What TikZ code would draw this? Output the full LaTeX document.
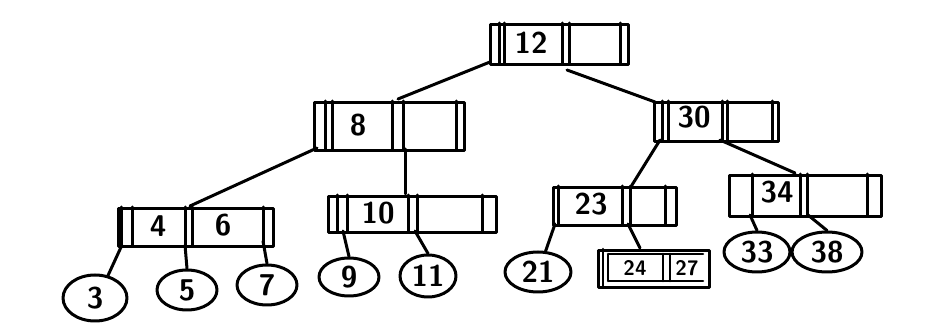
\documentclass[tikz,border=0pt]{standalone}
\usetikzlibrary{shapes.geometric}
\newcommand\numfont{\sffamily\bfseries\fontsize{30}{30}\selectfont}
\newcommand\smallnumfont{\sffamily\bfseries\fontsize{21}{21}\selectfont}
\begin{document}
\begin{tikzpicture}[x=1pt,y=-1pt,line cap=round,line join=round,
  box/.style={draw,rectangle,anchor=north west,inner sep=0pt,line width=3.4pt},
  bar/.style={line width=3pt},
  key/.style={font=\numfont,inner sep=0pt},
  skey/.style={font=\smallnumfont,inner sep=0pt},
  leaf/.style={draw,ellipse,inner sep=0pt,line width=3pt,font=\numfont},
  link/.style={line width=3pt}]
\path[use as bounding box,fill=white] (0,0) rectangle (945,336);

% root 12
\begin{scope}[shift={(489,23)}]
  \node[box,minimum width=138pt,minimum height=40pt] (n12) at (0,0) {};
  \draw[bar] (10,0)--(10,40) (15,0)--(15,40) (73,0)--(73,40) (80,0)--(80,40) (131,0)--(131,40);
  \node[key] (k12) at (42,20) {12};
  \coordinate (n12a) at (1,39);
  \coordinate (n12b) at (78,47);
\end{scope}

% node 8
\begin{scope}[shift={(313,101)}]
  \node[box,minimum width=150pt,minimum height=48pt] (n8) at (0,0) {};
  \draw[bar] (12,0)--(12,48) (19,0)--(19,48) (79,0)--(79,48) (90,0)--(90,48) (143,0)--(143,48);
  \node[key] (k8) at (45,24) {8};
  \coordinate (n8t) at (85,-2);
  \coordinate (n8a) at (4,47);
  \coordinate (n8b) at (92,48);
\end{scope}

% node 30
\begin{scope}[shift={(653,101)}]
  \node[box,minimum width=124pt,minimum height=39pt] (n30) at (0,0) {};
  \draw[bar] (9,0)--(9,39) (15,0)--(15,39) (69,0)--(69,39) (74,0)--(74,39) (119,0)--(119,39);
  \node[key] (k30) at (41,16) {30};
  \coordinate (n30t) at (2,1);
  \coordinate (n30a) at (7,39);
  \coordinate (n30b) at (67,39);
\end{scope}

% node 4 6
\begin{scope}[shift={(117,207)}]
  \node[box,minimum width=155pt,minimum height=38pt] (n46) at (0,0) {};
  \draw[bar] (4,0)--(4,38) (15,0)--(15,38) (68,0)--(68,38) (75,0)--(75,38) (146,0)--(146,38);
  \node[key] (k4) at (41,19) {4};
  \node[key] (k6) at (106,18) {6};
  \coordinate (n46t) at (73,-1);
  \coordinate (n46a) at (5,38);
  \coordinate (n46b) at (68,38);
  \coordinate (n46c) at (146,34);
\end{scope}

% node 10
\begin{scope}[shift={(327,195)}]
  \node[box,minimum width=168pt,minimum height=36pt] (n10) at (0,0) {};
  \draw[bar] (10,0)--(10,36) (20,0)--(20,36) (81,0)--(81,36) (90,0)--(90,36) (155,0)--(155,36);
  \node[key] (k10) at (51,18) {10};
  \coordinate (n10t) at (78,-1);
  \coordinate (n10a) at (16,36);
  \coordinate (n10b) at (88,36);
\end{scope}

% node 23
\begin{scope}[shift={(552,186)}]
  \node[box,minimum width=123pt,minimum height=38pt] (n23) at (0,0) {};
  \draw[bar] (6,0)--(6,38) (70,0)--(70,38) (78,0)--(78,38) (113,0)--(113,38);
  \node[key] (k23) at (39,18) {23};
  \coordinate (n23t) at (80,-1);
  \coordinate (n23a) at (3,38);
  \coordinate (n23b) at (76,38);
\end{scope}

% node 34
\begin{scope}[shift={(728,174)}]
  \node[box,minimum width=152pt,minimum height=41pt] (n34) at (0,0) {};
  \draw[bar] (24,0)--(24,41) (72,0)--(72,41) (79,0)--(79,41) (139,0)--(139,41);
  \node[key] (k34) at (49,18) {34};
  \coordinate (n34t) at (67,-1);
  \coordinate (n34a) at (22,41);
  \coordinate (n34b) at (80,41);
\end{scope}

% node 24 27
\begin{scope}[shift={(597,249)}]
  \node[box,minimum width=111pt,minimum height=37pt] (n2427) at (0,0) {};
  \draw[bar,line width=2.6pt] (6,0)--(6,37) (11,5)--(11,32) (11,5)--(106,5) (11,32)--(106,32)
             (66,5)--(66,32) (73,5)--(73,32);
  \node[skey] (k24) at (38,19) {24};
  \node[skey] (k27) at (90,19) {27};
  \coordinate (n2427t) at (43,-1);
\end{scope}

% leaves
\node[leaf,minimum width=64pt,minimum height=46pt] (c3) at (95,298) {3};
\node[leaf,minimum width=60pt,minimum height=40pt] (c5) at (187,290) {5};
\node[leaf,minimum width=60pt,minimum height=40pt] (c7) at (267,285) {7};
\node[leaf,minimum width=60pt,minimum height=38pt] (c9) at (349,277) {9};
\node[leaf,minimum width=56pt,minimum height=42pt] (c11) at (428,276) {11};
\node[leaf,minimum width=66pt,minimum height=40pt] (c21) at (538,272) {21};
\node[leaf,minimum width=66pt,minimum height=40pt] (c33) at (757,252) {33};
\node[leaf,minimum width=70pt,minimum height=40pt] (c38) at (827,252) {38};

% connectors
\draw[link] (n12a) -- (n8t);
\draw[link] (n12b) -- (n30t);
\draw[link] (n8a) -- (n46t);
\draw[link] (n8b) -- (n10t);
\draw[link] (n30a) -- (n23t);
\draw[link] (n30b) -- (n34t);
\draw[link] (n46a) -- (c3.60);
\draw[link] (n46b) -- (c5.north);
\draw[link] (n46c) -- (c7.north);
\draw[link] (n10a) -- (c9.north);
\draw[link] (n10b) -- (c11.north);
\draw[link] (n23a) -- (c21.70);
\draw[link] (n23b) -- (n2427t);
\draw[link] (n34a) -- (c33.north);
\draw[link] (n34b) -- (c38.north);
\end{tikzpicture}
\end{document}
